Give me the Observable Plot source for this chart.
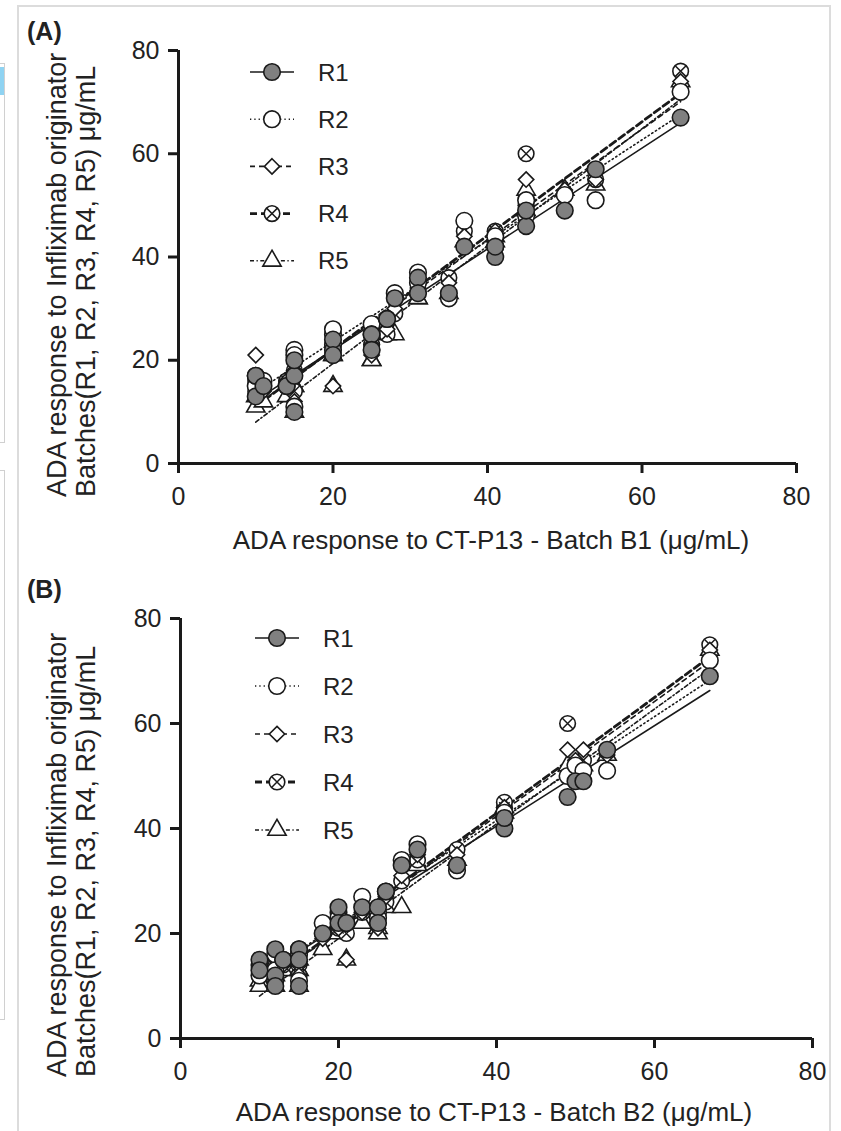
<!DOCTYPE html>
<html><head><meta charset="utf-8">
<script src="https://cdn.jsdelivr.net/npm/d3@7"></script>
<script src="https://cdn.jsdelivr.net/npm/@observablehq/plot@0.6"></script>
<style>
body{margin:0;background:#fff;font-family:"Liberation Sans",Arial,sans-serif;}
#fig{position:relative;width:841px;height:1131px;overflow:hidden;background:#fff;}
.frame{position:absolute;left:17px;top:5px;width:810px;height:1140px;border:2px solid #dcdcdc;}
.side1{position:absolute;left:-6px;top:63px;width:9px;height:378px;border:1px solid #d0d0d0;}
.side2{position:absolute;left:-6px;top:470px;width:9px;height:548px;border:1px solid #d0d0d0;}
.blue{position:absolute;left:0;top:67px;width:4px;height:28px;background:#8fd3f2;}
.panel{position:absolute;left:0;}
.plabel{position:absolute;font-weight:bold;font-size:25px;line-height:25px;color:#222;}
</style></head>
<body><div id="fig">
<div class="frame"></div><div class="side1"></div><div class="side2"></div><div class="blue"></div>
<div id="pA" class="panel" style="top:0"></div>
<div id="pB" class="panel" style="top:565px"></div>
<div class="plabel" style="left:27px;top:19px">(A)</div>
<div class="plabel" style="left:27px;top:577px">(B)</div>
</div>
<script>
// ---------- data ----------
const replicates = ["R1","R2","R3","R4","R5"];
const axisTicks = [0,20,40,60,80];

// Panel A: x = ADA response to CT-P13 Batch B1
const batchB1 = [10,10,11,14,15,15,15,20,20,20,25,25,27,28,31,31,35,37,41,41,45,45,50,54,65];
const A_R1 = [13,17,15,15,10,17,20,22,24,21,25,22,28,32,36,33,33,42,40,42,46,49,49,57,67];
const A_R2 = [15,17,16,15,11,22,21,25,26,23,27,25,28,33,37,35,32,47,42,44,48,51,52,51,72];
const A_R3 = [21,15,14,16,12,18,17,15,24,22,23,21,26,30,34,33,35,44,45,43,55,50,53,55,74];
const A_R4 = [14,16,15,16,14,17,18,21,23,22,23,22,25,29,35,33,36,45,44,45,60,50,52,55,76];
const A_R5 = [11,13,12,13,10,15,15,15,21,21,20,20,25,25,32,32,33,43,43,44,53,49,53,54,74];

// Panel B: x = ADA response to CT-P13 Batch B2
const batchB2 = [10,10,12,12,12,13,15,15,15,18,20,20,21,23,25,25,26,28,30,35,41,41,49,50,51,54,67];
const B_R1 = [15,13,17,12,10,15,17,15,10,20,25,22,22,25,25,22,28,33,36,33,40,42,46,49,49,55,69];
const B_R2 = [14,12,16,13,11,15,17,16,11,22,24,23,22,27,24,23,28,34,37,32,42,43,50,52,51,51,72];
const B_R3 = [13,12,15,12,11,14,16,14,12,19,22,21,15,24,23,21,27,31,35,35,44,44,55,53,55,54,74];
const B_R4 = [13,12,15,12,11,14,16,14,12,20,22,21,20,24,23,22,26,30,34,36,44,45,60,52,53,55,75];
const B_R5 = [11,10,13,12,10,13,15,13,10,17,21,20,15,22,21,20,25,25,33,34,43,44,52,51,52,54,74];

// ---------- styles ----------
const INK = "#1a1a1a";
const FF = "'Liberation Sans', Arial, sans-serif";
const lineStyle = {
  R1:{dash:null, w:1.6},
  R2:{dash:"1.3,3", w:1.6},
  R3:{dash:"5,4", w:1.6},
  R4:{dash:"7,4", w:2.8},
  R5:{dash:"4,2.5,1.3,2.5", w:1.6}
};
const mk = {
  R1:{symbol:"circle", fill:"#808080", r:8.3},
  R2:{symbol:"circle", fill:"white", r:8.3},
  R3:{symbol:"diamond2", fill:"white", r:6.9},
  R4:{symbol:"circle", fill:"white", r:7.8},
  R5:{symbol:"triangle", fill:"white", r:6.8}
};

function panel(el, cfg) {
  const rows = [];
  replicates.forEach((rep, i) => cfg.ys[i].forEach((y, j) => rows.push({rep, x: cfg.xs[j], y})));
  const marks = [];
  marks.push(Plot.ruleY([0], {stroke: INK, strokeWidth: 3}));
  marks.push(Plot.ruleX([0], {stroke: INK, strokeWidth: 3}));
  marks.push(Plot.axisX({ticks: axisTicks, tickSize: 10, tickPadding: 14, stroke: INK, strokeWidth: 3, fontSize: 25, fill: "#222", label: null}));
  marks.push(Plot.axisY({ticks: axisTicks, tickSize: 10, tickPadding: 9, stroke: INK, strokeWidth: 3, fontSize: 25, fill: "#222", label: null}));
  for (const rep of replicates) {
    const s = lineStyle[rep];
    marks.push(Plot.linearRegressionY(rows.filter(d => d.rep === rep), {
      x: "x", y: "y", ci: 0, stroke: INK, strokeWidth: s.w, strokeDasharray: s.dash
    }));
  }
  for (const rep of ["R5","R4","R3","R2","R1"]) {
    const m = mk[rep];
    const data = rows.filter(d => d.rep === rep);
    marks.push(Plot.dot(data, {x: "x", y: "y", symbol: () => m.symbol, r: m.r, fill: m.fill, stroke: INK, strokeWidth: 1.6}));
    if (rep === "R4") marks.push(Plot.dot(data, {x: "x", y: "y", symbol: () => "times", r: 4.8, stroke: INK, strokeWidth: 1.5}));
  }
  const svg = Plot.plot({
    width: 841, height: cfg.height,
    marginLeft: cfg.ml, marginRight: cfg.mr, marginTop: cfg.mt, marginBottom: cfg.mb,
    x: {domain: [0, 80]}, y: {domain: [0, 80]},
    symbol: {type: "identity"},
    style: {fontFamily: FF, fontSize: "25px", color: "#222", background: "transparent", overflow: "visible"},
    marks
  });
  const g = d3.select(svg);
  // x axis label
  g.append("text").attr("x", cfg.xlab[0]).attr("y", cfg.xlab[1]).attr("text-anchor", "middle")
    .attr("font-size", 26).attr("font-family", FF).attr("fill", "#222").text(cfg.xlabel);
  // y axis label (two lines), reading bottom to top
  const ylines = ["ADA response to Infliximab originator", "Batches(R1, R2, R3, R4, R5) μg/mL"];
  ylines.forEach((t, i) => {
    g.append("text").attr("transform", `translate(${cfg.ylab[i]},${cfg.ystart}) rotate(-90)`)
      .attr("text-anchor", "start").attr("font-size", 27).attr("font-family", FF).attr("fill", "#222").text(t);
  });
  // legend
  const L = cfg.legend;
  replicates.forEach((rep, i) => {
    const y = L.y0 + i * L.dy;
    const s = lineStyle[rep], m = mk[rep];
    const lg = g.append("g");
    lg.append("line").attr("x1", L.x - 22).attr("x2", L.x + 22).attr("y1", y).attr("y2", y)
      .attr("stroke", INK).attr("stroke-width", s.w).attr("stroke-dasharray", s.dash);
    const sym = {circle: d3.symbolCircle, diamond2: d3.symbolDiamond2, triangle: d3.symbolTriangle}[m.symbol];
    lg.append("path").attr("transform", `translate(${L.x},${y})`).attr("d", d3.symbol(sym, Math.PI * m.r * m.r)())
      .attr("fill", m.fill).attr("stroke", INK).attr("stroke-width", 1.6);
    if (rep === "R4") lg.append("path").attr("transform", `translate(${L.x},${y})`).attr("d", d3.symbol(d3.symbolTimes, Math.PI * 4.8 * 4.8)())
      .attr("fill", "none").attr("stroke", INK).attr("stroke-width", 1.5);
    lg.append("text").attr("x", L.tx).attr("y", y).attr("dy", "0.36em").attr("text-anchor", "start")
      .attr("font-size", 24).attr("font-family", FF).attr("fill", "#222").text(rep);
  });
  document.getElementById(el).appendChild(svg);
}

panel("pA", {
  xs: batchB1, ys: [A_R1, A_R2, A_R3, A_R4, A_R5],
  height: 565, ml: 178, mr: 45, mt: 50, mb: 102,
  xlabel: "ADA response to CT-P13 - Batch B1 (μg/mL)", xlab: [491, 549],
  ylab: [66, 95], ystart: 497,
  legend: {x: 272, y0: 72, dy: 47.2, tx: 318}
});
panel("pB", {
  xs: batchB2, ys: [B_R1, B_R2, B_R3, B_R4, B_R5],
  height: 566, ml: 180, mr: 29, mt: 53, mb: 93,
  xlabel: "ADA response to CT-P13 - Batch B2 (μg/mL)", xlab: [494, 556],
  ylab: [66, 95], ystart: 512,
  legend: {x: 277, y0: 73, dy: 48, tx: 323}
});
</script>
</body></html>
